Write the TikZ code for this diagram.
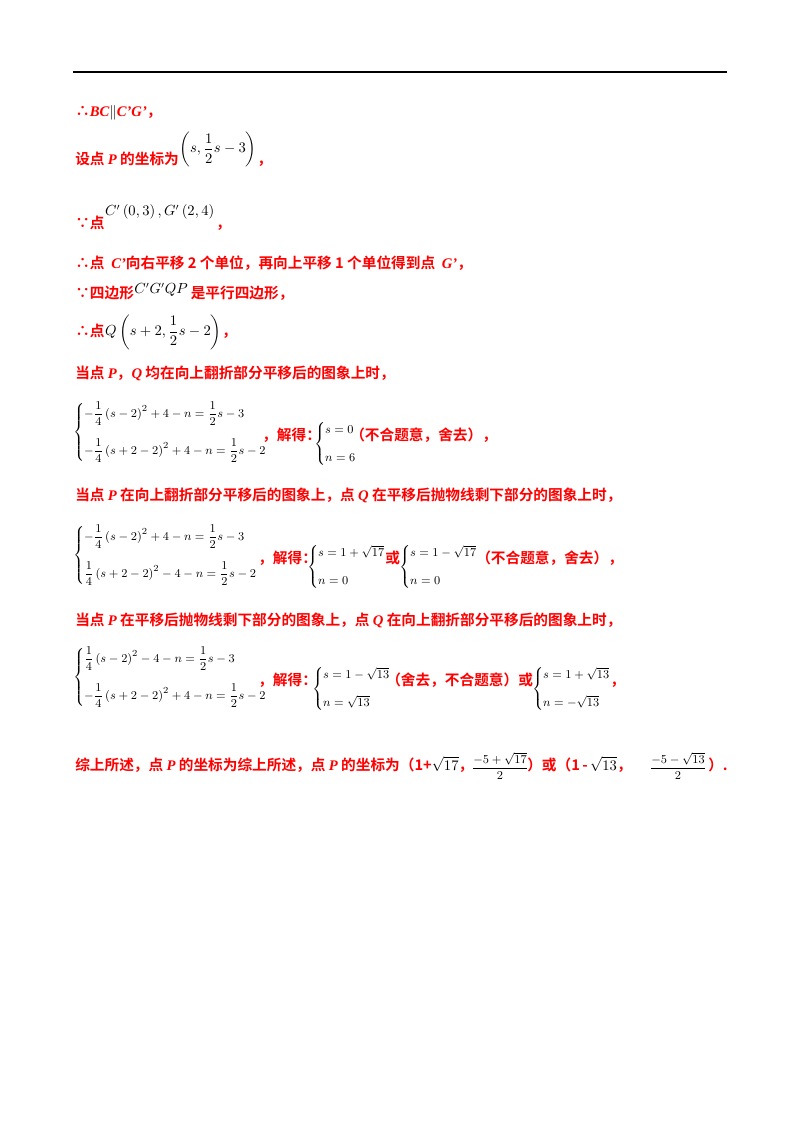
\documentclass[tikz,border=0pt]{standalone}
\usepackage{amsmath}
\usepackage{fontspec}
\setmainfont{Liberation Serif}
\newfontfamily\hz{Noto Sans CJK SC Bold}
\definecolor{rd}{RGB}{255,0,0}
\newcommand{\li}[1]{{\rmfamily\bfseries\itshape #1}}
\newcommand{\mb}[1]{{\color{black}$#1$}}
\begin{document}
\begin{tikzpicture}[x=0.75pt,y=-0.75pt,
  tx/.style={anchor=base west,inner sep=0pt,text=rd,font=\hz\fontsize{11}{13}\selectfont},
  mi/.style={anchor=west,inner sep=0pt,text=black,font=\fontsize{10.5}{13}\selectfont},
  mt/.style={anchor=west,inner sep=0pt,text=black,font=\fontsize{9.5}{11}\selectfont}]
\useasboundingbox (0,0) rectangle (800,1132);
\draw[line width=1.4pt] (73,72) -- (727,72);
\node[tx] (l1) at (75,116) {∴\li{BC}\mb{\|}\li{C'G'}，};
\node[tx] (l2) at (75,164) {设点 \li{P} 的坐标为};
\node[mi] (m2) at (l2.base east) [yshift=11pt] {$\left(s,\dfrac{1}{2}s-3\right)$};
\node[tx] at (m2.east |- l2.base) {，};
\node[tx] (l3) at (75,228) {∵点};
\node[mi] (m3) at (l3.base east) [yshift=12pt] {$C'\left(0,3\right),G'\left(2,4\right)$};
\node[tx] at (m3.east |- l3.base) [xshift=1pt] {，};
\node[tx] (l4) at (75,268) {∴点\ \ \li{C'}向右平移 2 个单位，再向上平移 1 个单位得到点\ \ \li{G'}，};
\node[tx] (l5) at (75,298) {∵四边形};
\node[mi] (m5) at (l5.base east) [yshift=6pt] {$C'G'QP$};
\node[tx] at (m5.east |- l5.base) {\,是平行四边形，};
\node[tx] (l6) at (75,336) {∴点};
\node[mi] (m6) at (l6.base east) [yshift=3pt] {$Q\left(s+2,\dfrac{1}{2}s-2\right)$};
\node[tx] at (m6.east |- l6.base) {，};
\node[tx] (l7) at (75,378) {当点 \li{P}，\li{Q} 均在向上翻折部分平移后的图象上时，};
\node[mt] (s1) at (73,432) {$\begin{cases}-\dfrac{1}{4}\left(s-2\right)^2+4-n=\dfrac{1}{2}s-3\\[12pt]-\dfrac{1}{4}\left(s+2-2\right)^2+4-n=\dfrac{1}{2}s-2\end{cases}$};
\node[tx] (j1) at (262,440) {，解得：};
\node[mt] (r1) at (314,444) {$\begin{cases}s=0\\[8pt]n=6\end{cases}$};
\node[tx] at (350,440) {（不合题意，舍去），};
\node[tx] (l8) at (75,500) {当点 \li{P} 在向上翻折部分平移后的图象上，点 \li{Q} 在平移后抛物线剩下部分的图象上时，};
\node[mt] (s2) at (73,555) {$\begin{cases}-\dfrac{1}{4}\left(s-2\right)^2+4-n=\dfrac{1}{2}s-3\\[12pt]\dfrac{1}{4}\left(s+2-2\right)^2-4-n=\dfrac{1}{2}s-2\end{cases}$};
\node[tx] (j2) at (258,563) {，解得：};
\node[mt] (r2) at (307,567) {$\begin{cases}s=1+\sqrt{17}\\[8pt]n=0\end{cases}$};
\node[tx] at (385,563) {或};
\node[mt] (r3) at (399,567) {$\begin{cases}s=1-\sqrt{17}\\[8pt]n=0\end{cases}$};
\node[tx] at (476,563) {（不合题意，舍去），};
\node[tx] (l9) at (75,625) {当点 \li{P} 在平移后抛物线剩下部分的图象上，点 \li{Q} 在向上翻折部分平移后的图象上时，};
\node[mt] (s3) at (73,677) {$\begin{cases}\dfrac{1}{4}\left(s-2\right)^2-4-n=\dfrac{1}{2}s-3\\[12pt]-\dfrac{1}{4}\left(s+2-2\right)^2+4-n=\dfrac{1}{2}s-2\end{cases}$};
\node[tx] (j3) at (258,685) {，解得：};
\node[mt] (r4) at (312,689) {$\begin{cases}s=1-\sqrt{13}\\[8pt]n=\sqrt{13}\end{cases}$};
\node[tx] at (386,685) {（舍去，不合题意）或};
\node[mt] (r5) at (532,689) {$\begin{cases}s=1+\sqrt{13}\\[8pt]n=-\sqrt{13}\end{cases}$};
\node[tx] at (610,685) {，};
\node[tx] (l10) at (75,770) {综上所述，点 \li{P} 的坐标为综上所述，点 \li{P} 的坐标为（1+\mb{\sqrt{17}}，};
\node[mt,anchor=center] (f1) at (500,766) {$\dfrac{-5+\sqrt{17}}{2}$};
\node[tx] at (527,770) {）或（1\,-\,\mb{\sqrt{13}}，};
\node[mt,anchor=center] (f2) at (678,766) {$\dfrac{-5-\sqrt{13}}{2}$};
\node[tx] at (708,770) {）.};
\end{tikzpicture}
\end{document}
